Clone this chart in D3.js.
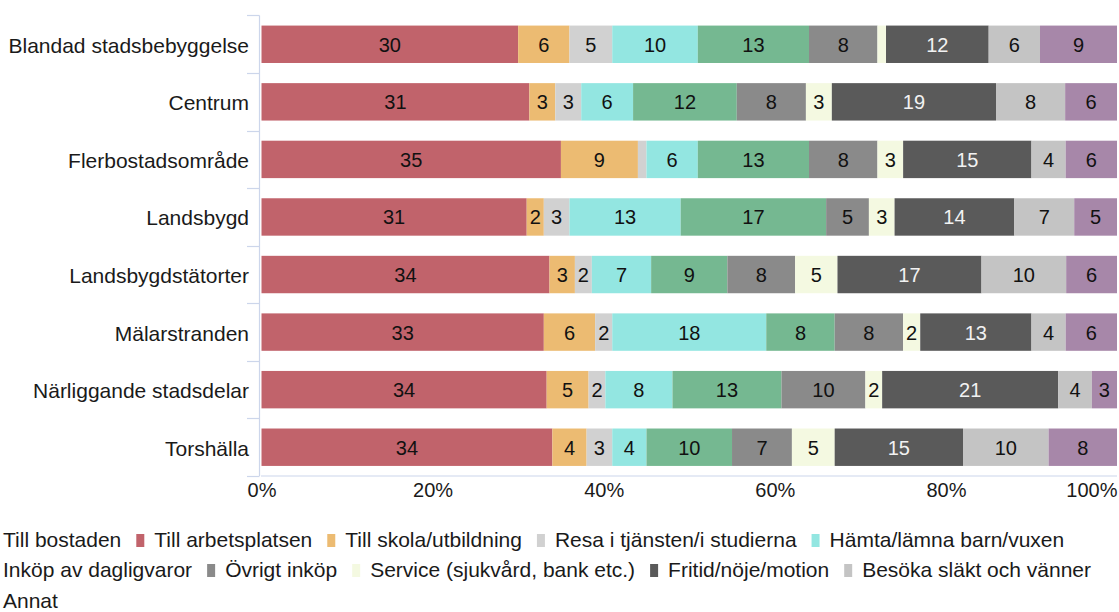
<!DOCTYPE html>
<html>
<head>
<meta charset="utf-8">
<script src="https://cdn.jsdelivr.net/npm/d3@7"></script>
<style>
  html, body { margin: 0; padding: 0; background: #fff; }
  svg { display: block; font-family: "Liberation Sans", Arial, sans-serif; }
</style>
</head>
<body>
<svg id="chart" width="1119" height="612"></svg>
<script>
// ---- data ----
const categories = [
  "Blandad stadsbebyggelse", "Centrum", "Flerbostadsområde", "Landsbygd",
  "Landsbygdstätorter", "Mälarstranden", "Närliggande stadsdelar", "Torshälla"
];
const seriesNames = [
  "Till arbetsplatsen", "Till skola/utbildning", "Resa i tjänsten/i studierna",
  "Hämta/lämna barn/vuxen", "Inköp av dagligvaror", "Övrigt inköp",
  "Service (sjukvård, bank etc.)", "Fritid/nöje/motion", "Besöka släkt och vänner", "Annat"
];
const legendNames = ["Till bostaden"].concat(seriesNames);
const tillArbetsplatsen = [30, 31, 35, 31, 34, 33, 34, 34];
const tillSkola        = [6, 3, 9, 2, 3, 6, 5, 4];
const resaITjansten    = [5, 3, 1, 3, 2, 2, 2, 3];
const hamtaLamna       = [10, 6, 6, 13, 7, 18, 8, 4];
const inkopDagligvaror = [13, 12, 13, 17, 9, 8, 13, 10];
const ovrigtInkop      = [8, 8, 8, 5, 8, 8, 10, 7];
const service          = [1, 3, 3, 3, 5, 2, 2, 5];
const fritid           = [12, 19, 15, 14, 17, 13, 21, 15];
const besokaSlakt      = [6, 8, 4, 7, 10, 4, 4, 10];
const annat            = [9, 6, 6, 5, 6, 6, 3, 8];
const seriesValues = [tillArbetsplatsen, tillSkola, resaITjansten, hamtaLamna,
  inkopDagligvaror, ovrigtInkop, service, fritid, besokaSlakt, annat];
const colors = ["#c1636b", "#ecbb72", "#d1d1d1", "#93e6e1", "#75b891",
  "#8a8a8a", "#f4f9e1", "#5a5a5a", "#c4c4c4", "#a787a9"];
const labelColors = ["#111", "#111", "#111", "#111", "#111", "#111", "#111", "#f2f2f2", "#111", "#111"];
const xTicks = [0, 0.2, 0.4, 0.6, 0.8, 1];
const legendLines = [[0, 1, 2, 3, 4], [5, 6, 7, 8, 9], [10]];

// ---- build table ----
const rows = categories.map((c, i) => {
  const r = { category: c };
  seriesNames.forEach((s, j) => { r[s] = seriesValues[j][i]; });
  return r;
});

const svg = d3.select("#chart");
const x = d3.scaleLinear().domain([0, 1]).range([261.5, 1117]);
const y = d3.scaleBand().domain(categories).range([15.5, 476]).paddingInner(0.35).paddingOuter(0.175);

const stack = d3.stack().keys(seriesNames).offset(d3.stackOffsetExpand);
const stacked = stack(rows);

// axis lines
const axisColor = "#ccd6eb";
svg.append("line").attr("x1", 259.5).attr("x2", 259.5).attr("y1", 15.5).attr("y2", 476)
  .attr("stroke", axisColor).attr("stroke-width", 1.2);
svg.append("line").attr("x1", 261).attr("x2", 1117).attr("y1", 476).attr("y2", 476)
  .attr("stroke", axisColor).attr("stroke-width", 1.2);
// category boundary ticks
const bounds = categories.map(c => y(c) - y.step() * 0.175).concat([476]);
svg.append("g").selectAll("line").data(bounds).join("line")
  .attr("x1", 247).attr("x2", 259.5)
  .attr("y1", d => Math.round(d) + 0.5).attr("y2", d => Math.round(d) + 0.5)
  .attr("stroke", axisColor).attr("stroke-width", 1.2);

// bars
const layers = svg.append("g").selectAll("g").data(stacked).join("g")
  .attr("fill", (d, i) => colors[i]);
layers.selectAll("rect").data(d => d).join("rect")
  .attr("x", d => x(d[0]))
  .attr("width", d => Math.max(0, x(d[1]) - x(d[0])))
  .attr("y", d => y(d.data.category))
  .attr("height", y.bandwidth());

// bar labels
stacked.forEach((layer, i) => {
  svg.append("g").selectAll("text").data(layer.filter(d => x(d[1]) - x(d[0]) >= 12)).join("text")
    .attr("x", d => (x(d[0]) + x(d[1])) / 2)
    .attr("y", d => y(d.data.category) + y.bandwidth() / 2 + 7.5)
    .attr("text-anchor", "middle")
    .attr("font-size", 20)
    .attr("fill", labelColors[i])
    .text(d => d.data[layer.key]);
});

// y axis labels
const yAxis = d3.axisLeft(y).tickSize(0).tickPadding(0);
const yg = svg.append("g").attr("transform", "translate(249,0)").call(yAxis);
yg.select(".domain").remove();
yg.selectAll("text").attr("font-size", 21).attr("fill", "#1a1a1a")
  .attr("font-family", "Liberation Sans, Arial, sans-serif").attr("dy", "0.4em");

// x axis labels
const xAxis = d3.axisBottom(x).tickValues(xTicks).tickFormat(d3.format(".0%")).tickSize(0).tickPadding(0);
const xg = svg.append("g").attr("transform", "translate(0,483)").call(xAxis);
xg.select(".domain").remove();
xg.selectAll("text").attr("font-size", 20).attr("fill", "#1a1a1a")
  .attr("font-family", "Liberation Sans, Arial, sans-serif").attr("dy", "0.71em");
xg.selectAll(".tick").filter(d => d === 1).select("text").attr("text-anchor", "end").attr("x", 0);

// legend
const legend = svg.append("g");
const baselines = [547, 577, 608];
legendLines.forEach((line, li) => {
  let cx = 3;
  line.forEach((idx, k) => {
    if (k > 0) {
      legend.append("rect").attr("x", cx).attr("y", baselines[li] - 13)
        .attr("width", 8).attr("height", 13).attr("fill", colors[idx - 1]);
      cx += 8 + 10;
    }
    const t = legend.append("text").attr("x", cx).attr("y", baselines[li])
      .attr("font-size", 21).attr("fill", "#1a1a1a").text(legendNames[idx]);
    cx += t.node().getComputedTextLength() + 15;
  });
});
</script>
</body>
</html>
